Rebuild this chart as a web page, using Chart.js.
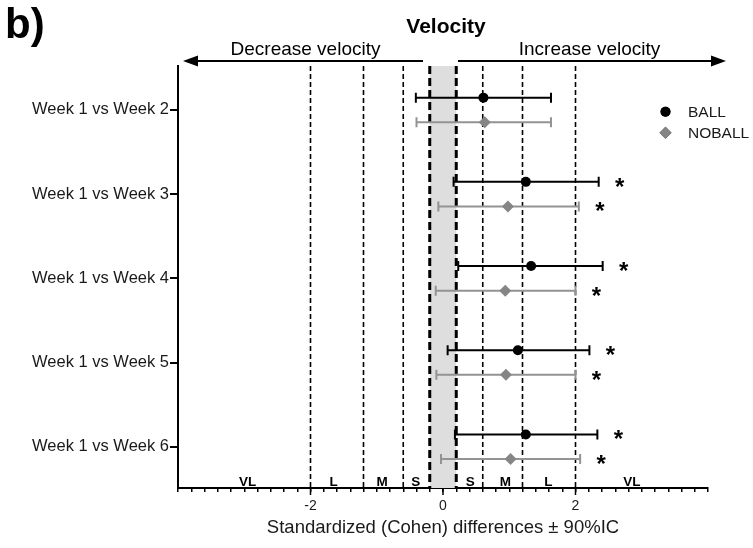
<!DOCTYPE html>
<html>
<head>
<meta charset="utf-8">
<script src="https://cdn.jsdelivr.net/npm/chart.js@4/dist/chart.umd.min.js"></script>
<style>
  html, body { margin: 0; padding: 0; background: #fff; }
  canvas { display: block; }
</style>
</head>
<body>
<canvas id="chart" width="753" height="548"></canvas>
<script>
// Comparisons shown on the vertical axis (top to bottom)
const comparisons = ['Week 1 vs Week 2', 'Week 1 vs Week 3', 'Week 1 vs Week 4', 'Week 1 vs Week 5', 'Week 1 vs Week 6'];

// Standardized (Cohen) differences with 90% confidence limits
const ballMean    = [0.61, 1.25, 1.33, 1.13, 1.25];
const ballLower   = [-0.41, 0.16, 0.23, 0.07, 0.18];
const ballUpper   = [1.63, 2.35, 2.41, 2.21, 2.33];
const noballMean  = [0.63, 0.98, 0.94, 0.95, 1.02];
const noballLower = [-0.40, -0.07, -0.11, -0.10, -0.03];
const noballUpper = [1.63, 2.05, 2.00, 2.00, 2.07];

// Substantial change flags (asterisks)
const ballSignificant   = [false, true, true, true, true];
const noballSignificant = [false, true, true, true, true];

// Effect-size thresholds and magnitude labels
const thresholds = [-2, -1.2, -0.6, -0.2, 0.2, 0.6, 1.2, 2];
const trivialBand = [-0.2, 0.2];
const magnitudeLabels = ['VL', 'L', 'M', 'S', 'S', 'M', 'L', 'VL'];
const magnitudePositions = [-2.95, -1.65, -0.92, -0.41, 0.41, 0.94, 1.59, 2.85];

// Horizontal axis
const xMin = -4, xMax = 4, xStep = 0.2;
const xTickLabels = [-2, 0, 2];

const FONT = '"Liberation Sans", Arial, Helvetica, sans-serif';
const ROW_SHIFT = 0.146;   // vertical separation of the two groups within a row
const BALL_COLOR = '#000000';
const NOBALL_LINE = '#939393';
const NOBALL_MARK = '#858585';

const groups = [
  { label: 'BALL', mean: ballMean, lower: ballLower, upper: ballUpper, sig: ballSignificant,
    shift: -ROW_SHIFT, line: BALL_COLOR, mark: BALL_COLOR, style: 'circle', radius: 5 },
  { label: 'NOBALL', mean: noballMean, lower: noballLower, upper: noballUpper, sig: noballSignificant,
    shift: ROW_SHIFT, line: NOBALL_LINE, mark: NOBALL_MARK, style: 'rectRot', radius: 6 }
];

function drawArrow(ctx, x0, x1, y, tipX) {
  ctx.beginPath();
  ctx.moveTo(x0, y);
  ctx.lineTo(x1, y);
  ctx.stroke();
  const dir = Math.sign(tipX - x1);
  ctx.beginPath();
  ctx.moveTo(tipX, y);
  ctx.lineTo(tipX - dir * 15, y - 5.5);
  ctx.lineTo(tipX - dir * 15, y + 5.5);
  ctx.closePath();
  ctx.fill();
}

const effectSizePlugin = {
  id: 'effectSizeDecor',
  beforeDatasetsDraw(chart) {
    const { ctx, chartArea: a, scales: { x, y } } = chart;
    ctx.save();

    // trivial zone
    const b0 = x.getPixelForValue(trivialBand[0]);
    const b1 = x.getPixelForValue(trivialBand[1]);
    ctx.fillStyle = '#dedede';
    ctx.fillRect(b0, a.top, b1 - b0, a.bottom - a.top);

    // threshold lines
    ctx.strokeStyle = '#000';
    thresholds.forEach(t => {
      const px = x.getPixelForValue(t);
      const edge = trivialBand.includes(t);
      ctx.beginPath();
      ctx.setLineDash(edge ? [8, 4] : [5, 3]);
      ctx.lineWidth = edge ? 3 : 1.6;
      ctx.moveTo(px, a.top);
      ctx.lineTo(px, a.bottom);
      ctx.stroke();
    });
    ctx.setLineDash([]);

    // magnitude labels along the axis
    ctx.fillStyle = '#000';
    ctx.font = 'bold 13.5px ' + FONT;
    ctx.textAlign = 'center';
    ctx.textBaseline = 'alphabetic';
    magnitudeLabels.forEach((lab, i) => {
      ctx.fillText(lab, x.getPixelForValue(magnitudePositions[i]), a.bottom - 2);
    });

    // confidence-limit bars
    groups.forEach(g => {
      ctx.strokeStyle = g.line;
      ctx.lineWidth = 2;
      g.mean.forEach((m, i) => {
        const py = y.getPixelForValue(i + 1 + g.shift);
        const xl = x.getPixelForValue(g.lower[i]);
        const xu = x.getPixelForValue(g.upper[i]);
        ctx.beginPath();
        ctx.moveTo(xl, py); ctx.lineTo(xu, py);
        ctx.moveTo(xl, py - 5); ctx.lineTo(xl, py + 5);
        ctx.moveTo(xu, py - 5); ctx.lineTo(xu, py + 5);
        ctx.stroke();
      });
    });
    ctx.restore();
  },
  afterDraw(chart) {
    const { ctx, chartArea: a, scales: { x, y } } = chart;
    ctx.save();

    // longer marks at labelled ticks
    ctx.strokeStyle = '#000';
    ctx.lineWidth = 1.5;
    xTickLabels.forEach(v => {
      const px = x.getPixelForValue(v);
      ctx.beginPath();
      ctx.moveTo(px, a.bottom);
      ctx.lineTo(px, a.bottom + 7);
      ctx.stroke();
    });

    // asterisks for substantial changes
    ctx.fillStyle = '#000';
    ctx.font = 'bold 24px ' + FONT;
    ctx.textAlign = 'center';
    ctx.textBaseline = 'alphabetic';
    groups.forEach(g => {
      g.sig.forEach((s, i) => {
        if (!s) return;
        const py = y.getPixelForValue(i + 1 + g.shift);
        ctx.fillText('*', x.getPixelForValue(g.upper[i]) + 21, py + 13);
      });
    });

    // panel letter and title
    ctx.textAlign = 'left';
    ctx.font = 'bold 42px ' + FONT;
    ctx.fillText('b)', 5, 38);
    ctx.textAlign = 'center';
    ctx.font = 'bold 21px ' + FONT;
    ctx.fillText('Velocity', 446, 33);

    // direction arrows
    ctx.font = '19px ' + FONT;
    ctx.fillText('Decrease velocity', 305.5, 55);
    ctx.fillText('Increase velocity', 589.5, 55);
    ctx.lineWidth = 2;
    drawArrow(ctx, 423, 195, 61, 183);
    drawArrow(ctx, 458, 714, 61, 726);

    // legend
    ctx.textAlign = 'left';
    ctx.textBaseline = 'middle';
    ctx.font = '15.5px ' + FONT;
    groups.forEach((g, k) => {
      const ly = 111.7 + k * 21;
      Chart.helpers.drawPoint(ctx, { pointStyle: g.style, radius: g.radius, borderWidth: 0 }, 665.5, ly);
      ctx.fillStyle = g.mark;
      ctx.fill();
      ctx.fillStyle = '#1a1a1a';
      ctx.fillText(g.label, 688, ly + 1);
    });
    ctx.restore();
  }
};

const datasets = groups.map(g => ({
  label: g.label,
  data: g.mean.map((m, i) => ({ x: m, y: i + 1 + g.shift })),
  pointStyle: g.style,
  pointRadius: g.radius,
  pointBackgroundColor: g.mark,
  pointBorderColor: g.mark,
  pointBorderWidth: 0,
  showLine: false
}));

new Chart(document.getElementById('chart'), {
  type: 'scatter',
  data: { datasets },
  plugins: [effectSizePlugin],
  options: {
    responsive: false,
    animation: false,
    events: [],
    layout: { padding: { top: 66, right: 45, left: 0, bottom: 0 } },
    plugins: { legend: { display: false }, tooltip: { enabled: false }, title: { display: false } },
    scales: {
      x: {
        type: 'linear',
        min: xMin, max: xMax,
        afterFit(scale) { scale.height = 60; },
        border: { display: true, color: '#000', width: 2 },
        grid: { drawOnChartArea: false, drawTicks: true, tickLength: 4, color: '#000', lineWidth: 1.5 },
        ticks: {
          stepSize: xStep,
          autoSkip: false,
          maxRotation: 0,
          padding: 6,
          color: '#1a1a1a',
          font: { family: FONT, size: 14 },
          callback: v => xTickLabels.some(t => Math.abs(t - v) < 1e-6) ? String(Math.round(v)) : ''
        },
        title: {
          display: true,
          text: 'Standardized (Cohen) differences \u00b1 90%IC',
          color: '#1a1a1a',
          font: { family: FONT, size: 18.5 },
          padding: { top: 0, bottom: 9 }
        }
      },
      y: {
        type: 'linear',
        reverse: true,
        min: 0.478, max: 5.49,
        afterFit(scale) { scale.width = 178; },
        afterBuildTicks(scale) { scale.ticks = comparisons.map((c, i) => ({ value: i + 1 })); },
        border: { display: true, color: '#000', width: 2 },
        grid: { drawOnChartArea: false, drawTicks: true, tickLength: 8, color: '#000', lineWidth: 2 },
        ticks: {
          padding: 1,
          color: '#1a1a1a',
          font: { family: FONT, size: 16.5 },
          callback: v => comparisons[Math.round(v) - 1] || ''
        }
      }
    }
  }
});
</script>
</body>
</html>
